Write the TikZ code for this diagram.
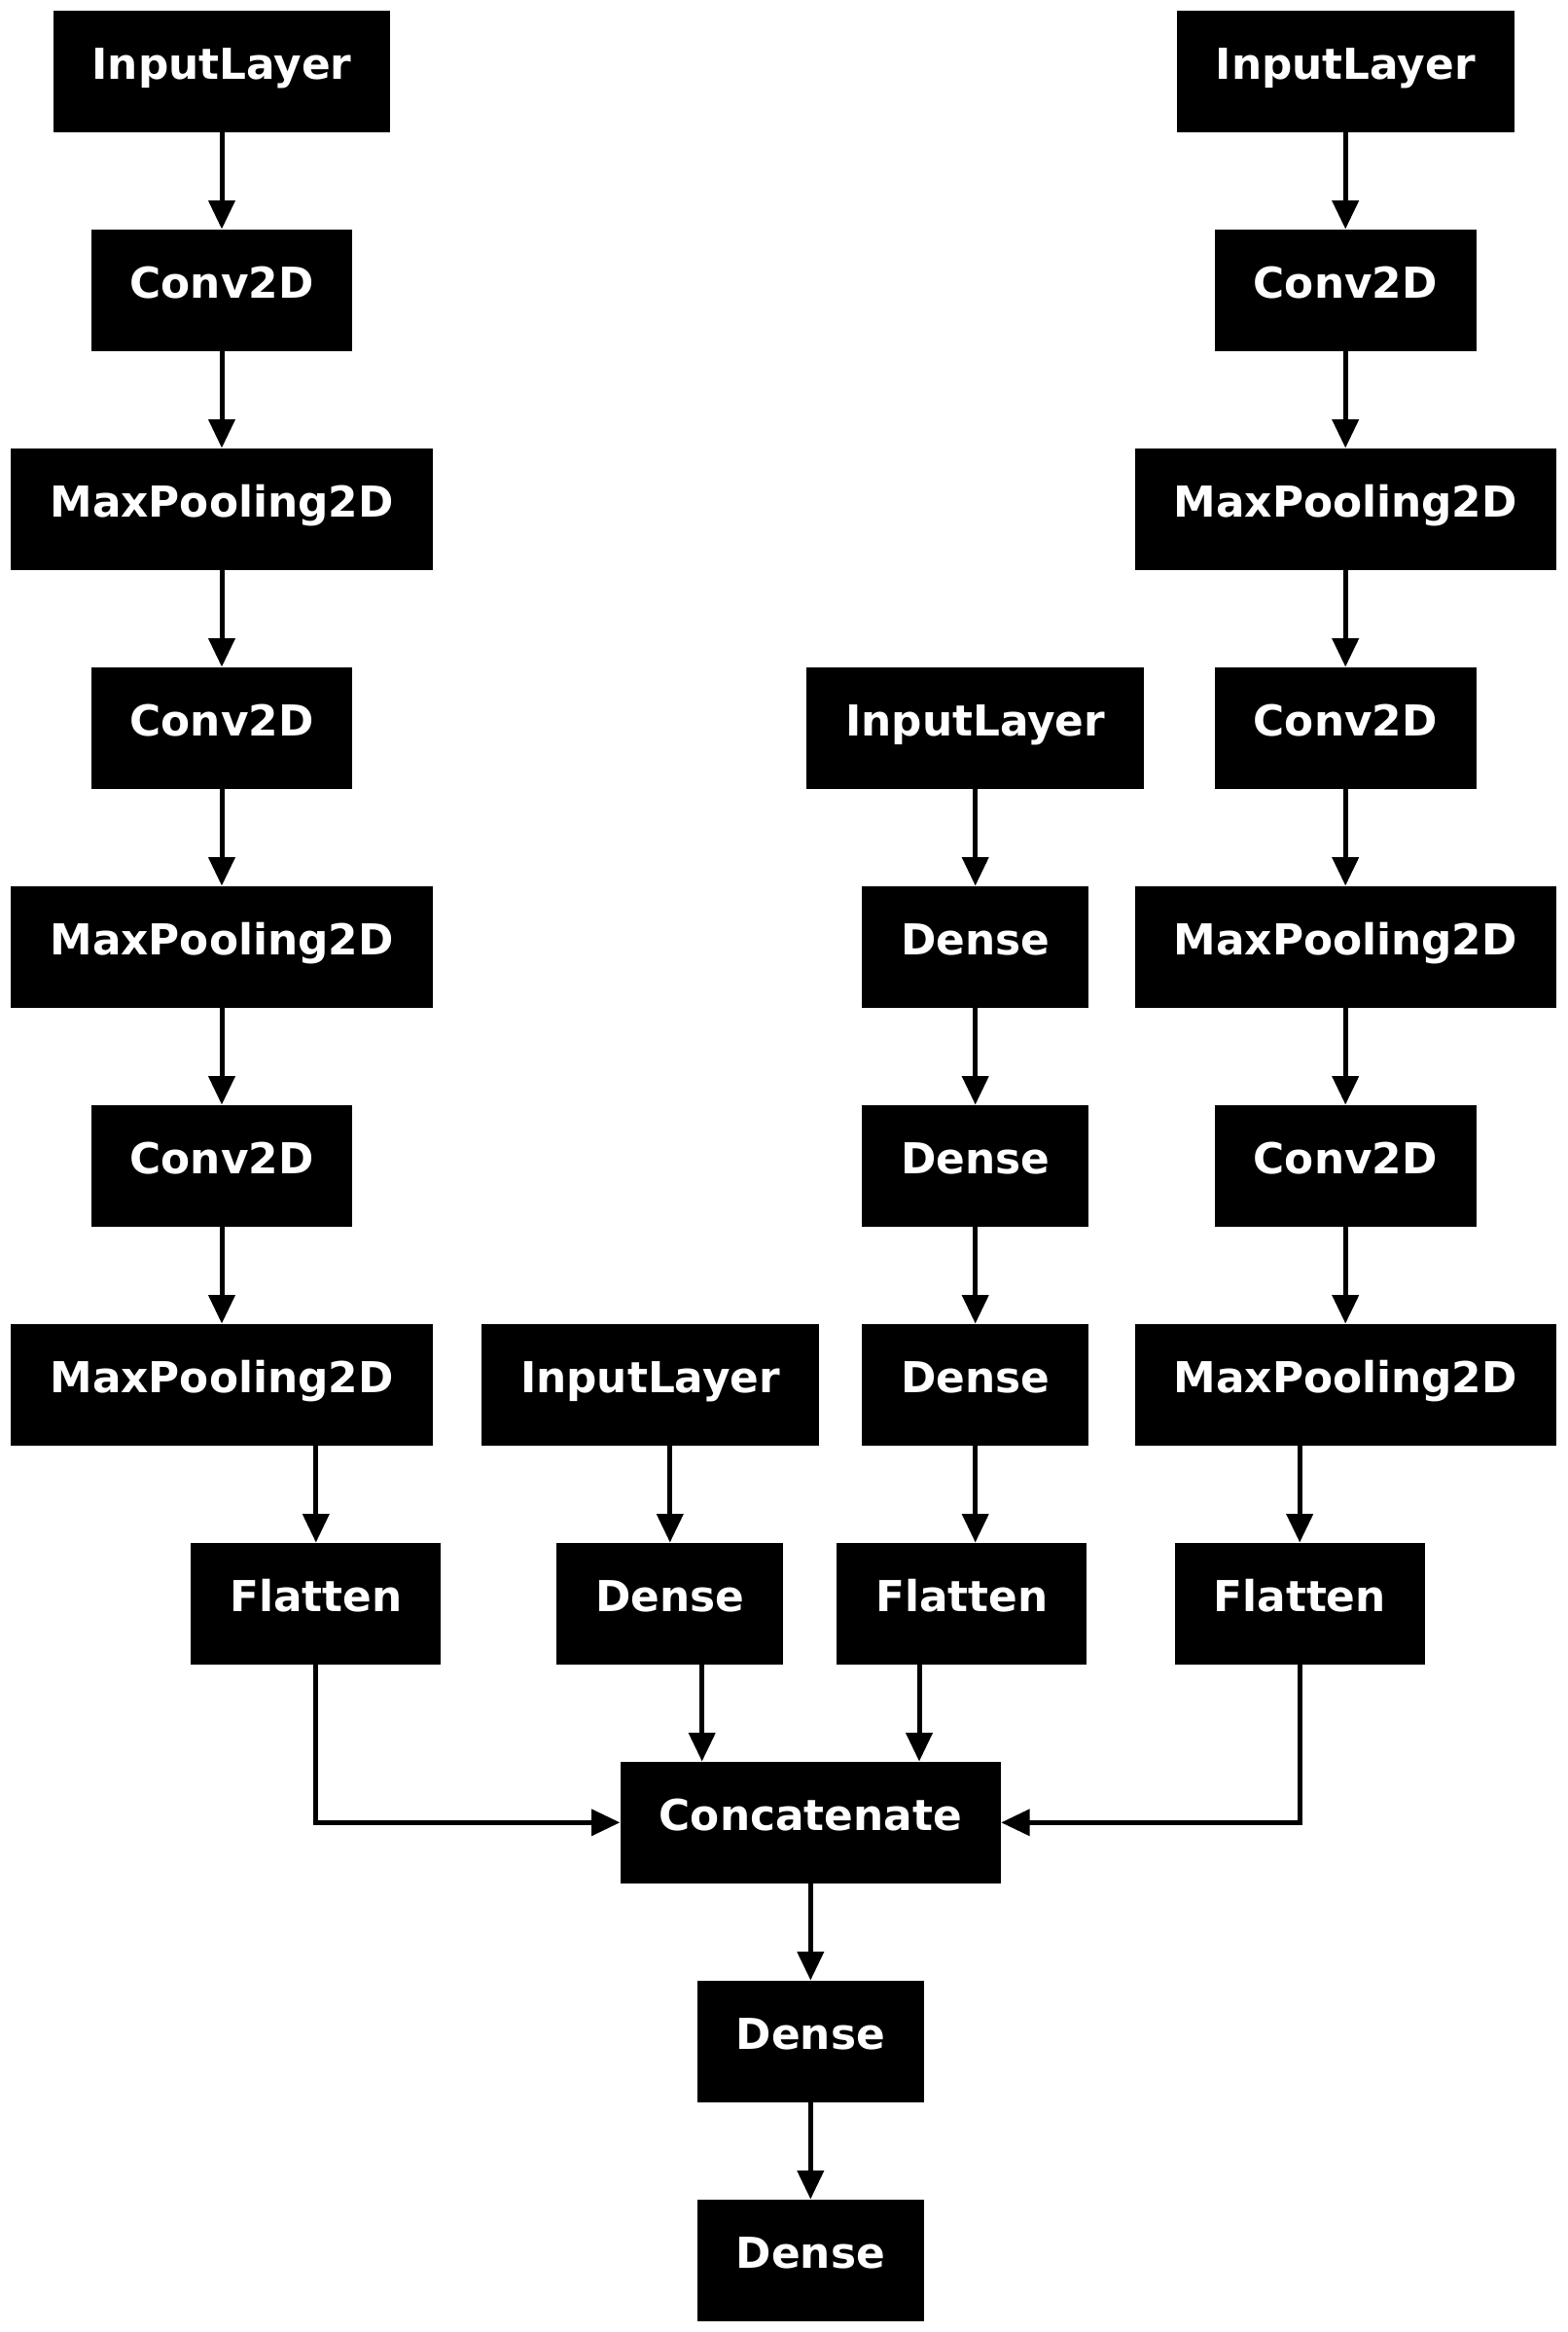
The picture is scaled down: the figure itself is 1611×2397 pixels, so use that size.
\documentclass[tikz,border=0pt]{standalone}
\usepackage{fontspec}
\setmainfont{DejaVu Sans}
\usetikzlibrary{arrows.meta,positioning,calc}

\begin{document}
\begin{tikzpicture}[x=0.5pt,y=-0.5pt,
    layer/.style={rectangle,fill=black,text=white,
      font=\bfseries\fontsize{21.9}{26}\selectfont,
      minimum height=62.35pt,inner xsep=20pt,inner ysep=0pt,
      text height=16.6pt,text depth=8.8pt},
    edge/.style={line width=2.5pt,-{Triangle[length=14.7pt,width=13.3pt]}}]
  \useasboundingbox (0,0) rectangle (1611,2397);
  % left branch
  \node[layer] (inl) at (228,73.3) {InputLayer};
  \node[layer] (cvla) at (228,298.3) {Conv2D};
  \node[layer] (mpla) at (228,523.3) {MaxPooling2D};
  \node[layer] (cvlb) at (228,748.3) {Conv2D};
  \node[layer] (mplb) at (228,973.3) {MaxPooling2D};
  \node[layer] (cvlc) at (228,1198.3) {Conv2D};
  \node[layer] (mplc) at (228,1423.3) {MaxPooling2D};
  \node[layer] (fll) at (324.8,1648.3) {Flatten};
  % right branch
  \node[layer] (inr) at (1383.2,73.3) {InputLayer};
  \node[layer] (cvra) at (1383.2,298.3) {Conv2D};
  \node[layer] (mpra) at (1383.2,523.3) {MaxPooling2D};
  \node[layer] (cvrb) at (1383.2,748.3) {Conv2D};
  \node[layer] (mprb) at (1383.2,973.3) {MaxPooling2D};
  \node[layer] (cvrc) at (1383.2,1198.3) {Conv2D};
  \node[layer] (mprc) at (1383.2,1423.3) {MaxPooling2D};
  \node[layer] (flr) at (1336.2,1648.3) {Flatten};
  % dense branches
  \node[layer] (inm) at (1002.7,748.3) {InputLayer};
  \node[layer] (dnma) at (1002.7,973.3) {Dense};
  \node[layer] (dnmb) at (1002.7,1198.3) {Dense};
  \node[layer] (dnmc) at (1002.7,1423.3) {Dense};
  \node[layer] (flm) at (988.8,1648.3) {Flatten};
  \node[layer] (ins) at (668.5,1423.3) {InputLayer};
  \node[layer] (dns) at (688.8,1648.3) {Dense};
  % head
  \node[layer] (cat) at (833.3,1873.3) {Concatenate};
  \node[layer] (dna) at (833.3,2098.3) {Dense};
  \node[layer] (dnb) at (833.3,2323.3) {Dense};

  \draw[edge] (inl) -- (cvla);
  \draw[edge] (cvla) -- (mpla);
  \draw[edge] (mpla) -- (cvlb);
  \draw[edge] (cvlb) -- (mplb);
  \draw[edge] (mplb) -- (cvlc);
  \draw[edge] (cvlc) -- (mplc);
  \draw[edge] (mplc.south -| fll) -- (fll.north);
  \draw[edge] (inr) -- (cvra);
  \draw[edge] (cvra) -- (mpra);
  \draw[edge] (mpra) -- (cvrb);
  \draw[edge] (cvrb) -- (mprb);
  \draw[edge] (mprb) -- (cvrc);
  \draw[edge] (cvrc) -- (mprc);
  \draw[edge] (mprc.south -| flr) -- (flr.north);
  \draw[edge] (inm) -- (dnma);
  \draw[edge] (dnma) -- (dnmb);
  \draw[edge] (dnmb) -- (dnmc);
  \draw[edge] (dnmc.south) -- (dnmc.south |- flm.north);
  \draw[edge] (ins.south -| dns) -- (dns.north);
  \draw[edge] (fll.south) |- (cat.west);
  \draw[edge] (flr.south) |- (cat.east);
  \draw[edge] ($(dns.south)+(32.9,0)$) coordinate (dnsout) --
  (dnsout |- cat.north);
  \draw[edge] ($(flm.south)+(-43.8,0)$) coordinate (flmout) --
  (flmout |- cat.north);
  \draw[edge] (cat) -- (dna);
  \draw[edge] (dna) -- (dnb);
\end{tikzpicture}
\end{document}
